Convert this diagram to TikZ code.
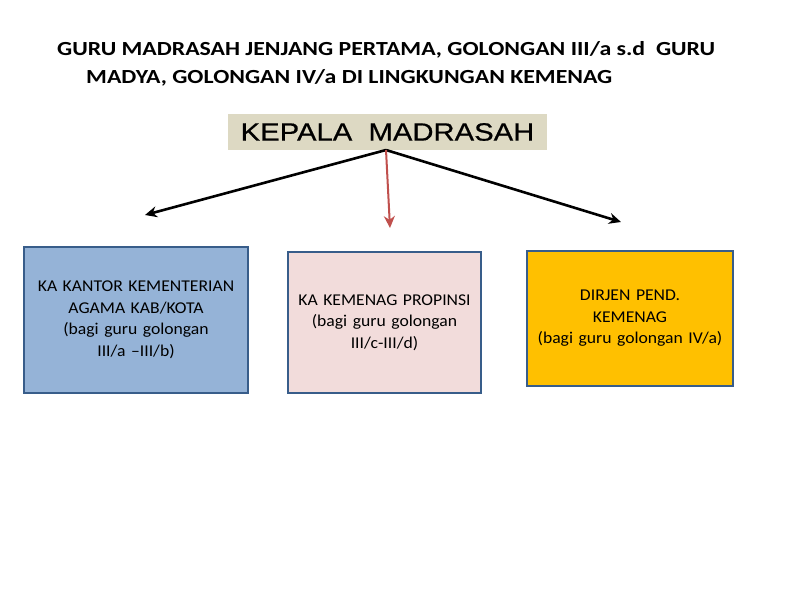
\documentclass[tikz,border=0pt]{standalone}
\usepackage{fontspec}
\setmainfont{Carlito}
\newfontfamily\titlefont[FakeStretch=1.19]{Carlito}
\newfontfamily\boxfont[FakeStretch=1.07]{Carlito}
\newfontfamily\arialfont[FakeStretch=1.17,FakeBold=0.6]{Liberation Sans}
\usetikzlibrary{calc,arrows.meta}
\definecolor{boxline}{RGB}{56,93,138}
\definecolor{kepalafill}{RGB}{221,217,195}
\definecolor{kabfill}{RGB}{149,179,215}
\definecolor{propfill}{RGB}{242,220,219}
\definecolor{dirjenfill}{RGB}{255,192,0}
\definecolor{redline}{RGB}{192,80,77}
\tikzset{
  unitbox/.style={rectangle,draw=boxline,line width=2.5pt,align=center,
    inner sep=2pt,font=\boxfont\fontsize{16.5}{21.5}\selectfont},
  title/.style={anchor=west,inner sep=0pt,font=\titlefont\bfseries\fontsize{20}{24}\selectfont},
  branch/.style={-{Stealth[length=12pt,width=11pt]},line width=2.6pt}
}

\begin{document}
\begin{tikzpicture}[x=1pt,y=-1pt]
      \useasboundingbox (0,0) rectangle (792,612);
      \node (t1) [title] at (57,50) {GURU MADRASAH JENJANG PERTAMA, GOLONGAN III/a s.d~~GURU};
      \node (t2) [title] at (86,78) {MADYA, GOLONGAN IV/a DI LINGKUNGAN KEMENAG};
      \node (kepala) [rectangle,fill=kepalafill,minimum width=319pt,minimum height=36pt,inner sep=0pt,
        font=\arialfont\fontsize{25}{30}\selectfont] at (387.5,132) {KEPALA~~MADRASAH};
      \coordinate (apex) at (386,150);
      \node (kab) [unitbox,fill=kabfill,minimum width=224pt,minimum height=146pt,text width=215pt]
        at (136,320) {KA KANTOR KEMENTERIAN\\AGAMA KAB/KOTA\\(bagi guru golongan\\III/a –III/b)};
      \node (prop) [unitbox,fill=propfill,minimum width=193pt,minimum height=141pt,text width=185pt]
        at (384.5,322.5) {KA KEMENAG PROPINSI\\(bagi guru golongan\\III/c-III/d)};
      \node (dirjen) [unitbox,fill=dirjenfill,minimum width=206pt,minimum height=135pt,text width=198pt]
        at (630,318.5) {DIRJEN PEND.\\KEMENAG\\(bagi guru golongan IV/a)};
      \coordinate (lend) at (145,215);
      \coordinate (rend) at (621,222);
      \coordinate (mend) at (390,228);
      \draw [branch] (apex) to (lend);
      \draw [branch] (apex) to (rend);
      \draw [branch,line width=2pt,redline] (apex) to (mend);
    \end{tikzpicture}
\end{document}
